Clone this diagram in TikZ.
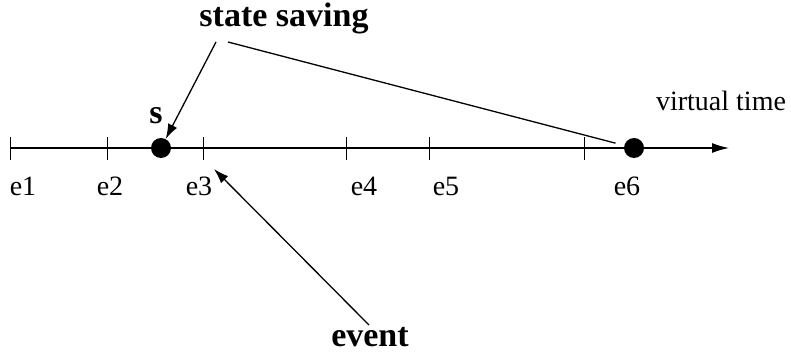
\documentclass[tikz,border=0pt]{standalone}
\usepackage{fontspec}
\setmainfont{Liberation Serif}
\usetikzlibrary{arrows.meta}

\tikzset{
  dot/.style={circle, fill=black, minimum size=20pt, inner sep=0pt},
  lbl/.style={font=\fontsize{28}{32}\selectfont, inner sep=0pt},
  bold/.style={font=\fontsize{34}{38}\selectfont\bfseries, inner sep=0pt},
  arr/.style={line width=1.3pt, -{Latex[length=15pt,width=10pt]}}
}

\begin{document}
\begin{tikzpicture}[x=1pt, y=-1pt]
    \useasboundingbox (0,0) rectangle (791,355);
    % time axis
    \coordinate (start) at (10,148);
    \coordinate (end) at (729,148);
    \draw[line width=1.3pt, -{Latex[length=17pt,width=10pt]}] (start) -- (end);
    \node[lbl, anchor=base] (vt) at (721,111) {virtual time};
    \foreach \x in {10, 107, 203, 346, 429, 584} \draw[line width=0.9pt] (\x,137) -- (\x,160);
    \foreach \x/\xtext in {23/e1, 110/e2, 199/e3, 364/e4, 446/e5, 627/e6}
        \node[lbl, anchor=base] (\xtext) at (\x,196) {\xtext};
    % checkpoints
    \node[dot] (s) at (161,148) {};
    \node[dot] (d6) at (634,148) {};
    \node[bold, anchor=base] (slbl) at (156,124) {s};
    \node[bold, anchor=base] (ss) at (284,27) {state saving};
    \node[bold, anchor=base] (ev) at (370,346) {event};
    \coordinate (ssA) at (216,42);
    \coordinate (ssB) at (228,42);
    \coordinate (evA) at (369,325);
    \coordinate (evB) at (214,169);
    \draw[arr] (ssA) -- (s);
    \draw[line width=1.3pt, shorten >=9pt] (ssB) -- (d6);
    \draw[arr] (evA) -- (evB);
\end{tikzpicture}
\end{document}
